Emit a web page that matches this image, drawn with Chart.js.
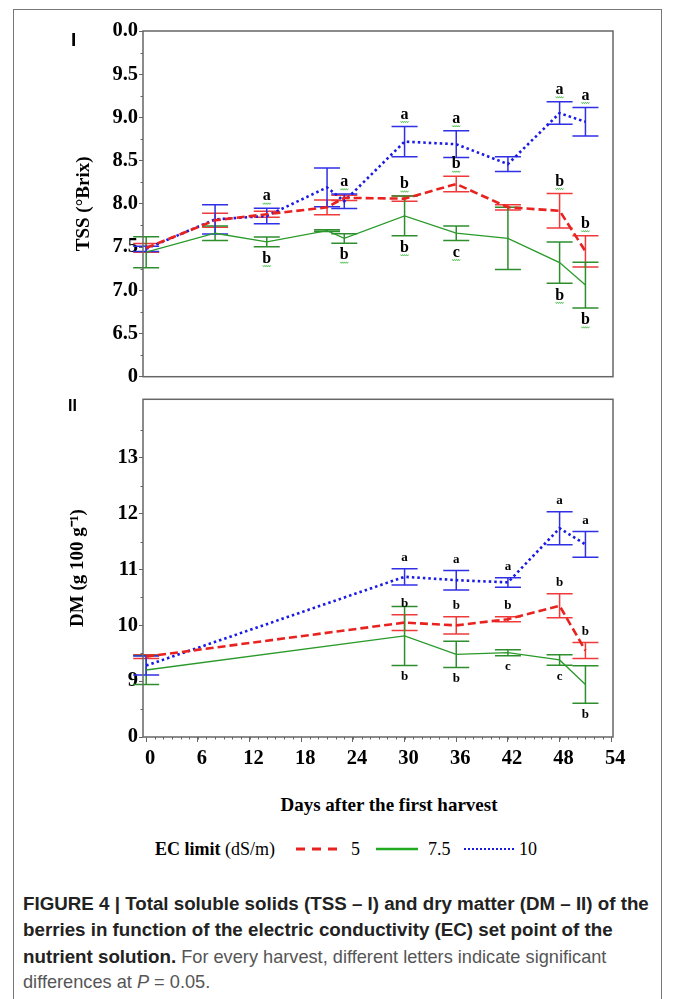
<!DOCTYPE html>
<html>
<head>
<meta charset="utf-8">
<script src="https://cdn.jsdelivr.net/npm/chart.js@4.4.1/dist/chart.umd.min.js"></script>
<style>
  html, body { margin: 0; padding: 0; background: #fff; }
  body { width: 673px; height: 999px; position: relative; overflow: hidden; }
  .frame { position: absolute; left: 13px; top: 9px; width: 649px; height: 1100px; border: 1px solid #777; box-sizing: border-box; }
  .wrap { position: absolute; left: 0; width: 673px; }
  .wrap canvas { display: block; }
  .panel { position: absolute; font: bold 19px/19px "Liberation Sans", Arial, sans-serif; color: #000; }
  .serif { position: absolute; font-family: "Liberation Serif", "Times New Roman", serif; color: #000; white-space: nowrap; }
  .caption { position: absolute; left: 23px; top: 891px; font: 18.2px/25.3px "Liberation Sans", Arial, sans-serif; color: #555; white-space: nowrap; }
  .caption b { color: #222; font-size: 18.75px; }
</style>
</head>
<body>
<div class="frame"></div>

<div class="wrap" style="top:0; height:390px;"><canvas id="tssChart" width="673" height="390"></canvas></div>
<div class="wrap" style="top:386px; height:400px;"><canvas id="dmChart" width="673" height="400"></canvas></div>

<div class="panel" style="left:71px; top:30px;">I</div>
<div class="panel" style="left:68px; top:398px; font-size:16px; line-height:16px;">II</div>

<div class="serif" style="left:389px; top:794px; transform:translateX(-50%); font-weight:bold; font-size:19px; line-height:22px;">Days after the first harvest</div>

<div class="serif" style="left:155px; top:838px; font-size:18px; line-height:22px;"><b>EC limit</b> (dS/m)</div>
<svg style="position:absolute; left:296px; top:844px;" width="42" height="10">
  <line x1="0" y1="5" x2="42" y2="5" stroke="#e8231f" stroke-width="3" stroke-dasharray="9 7"/>
</svg>
<div class="serif" style="left:351px; top:838px; font-size:18px; line-height:22px;">5</div>
<svg style="position:absolute; left:376px; top:844px;" width="42" height="10">
  <line x1="0" y1="5" x2="42" y2="5" stroke="#1faa1f" stroke-width="2.5"/>
</svg>
<div class="serif" style="left:428px; top:838px; font-size:18px; line-height:22px;">7.5</div>
<svg style="position:absolute; left:464px; top:844px;" width="50" height="10">
  <line x1="0" y1="5" x2="50" y2="5" stroke="#1a1ae6" stroke-width="2" stroke-dasharray="2 2"/>
</svg>
<div class="serif" style="left:519px; top:838px; font-size:18px; line-height:22px;">10</div>

<div class="caption"><b>FIGURE 4 | Total soluble solids (TSS – I) and dry matter (DM – II) of the<br>berries in function of the electric conductivity (EC) set point of the<br>nutrient solution.</b> For every harvest, different letters indicate significant<br>differences at <i>P</i> = 0.05.</div>

<script>
// values (means and half error bars)
const tssDays = [0, 8, 14, 21, 23, 30, 36, 42, 48, 51];
const tss5 = [7.49, 7.81, 7.88, 7.96, 8.07, 8.06, 8.23, 7.96, 7.92, 7.45];
const tss5Err = [0.05, 0.08, 0.035, 0.085, 0.03, 0.03, 0.09, 0.03, 0.2, 0.18];
const tss75 = [7.44, 7.66, 7.56, 7.69, 7.60, 7.86, 7.66, 7.60, 7.32, 7.06];
const tss75Err = [0.18, 0.085, 0.055, 0.01, 0.055, 0.23, 0.085, 0.36, 0.24, 0.265];
const tss10 = [7.48, 7.82, 7.86, 8.19, 8.03, 8.72, 8.69, 8.46, 9.05, 8.95];
const tss10Err = [0.03, 0.17, 0.09, 0.225, 0.085, 0.175, 0.155, 0.085, 0.13, 0.165];
const tss5Letters = ['', '', '', '', '', 'b', 'b', '', 'b', 'b'];
const tss75Letters = ['', '', 'b', '', 'b', 'b', 'c', '', 'b', 'b'];
const tss10Letters = ['', '', 'a', '', 'a', 'a', 'a', '', 'a', 'a'];

const dmDays = [0, 30, 36, 42, 48, 51];
const dm5 = [9.44, 10.05, 10.0, 10.11, 10.35, 9.55];
const dm5Err = [0.035, 0.14, 0.155, 0.045, 0.215, 0.145];
const dm75 = [9.2, 9.81, 9.48, 9.51, 9.38, 8.94];
const dm75Err = [0.26, 0.53, 0.235, 0.055, 0.095, 0.335];
const dm10 = [9.28, 10.87, 10.81, 10.77, 11.74, 11.45];
const dm10Err = [0.17, 0.145, 0.175, 0.085, 0.295, 0.23];
const dm5Letters = ['', 'b', 'b', 'b', 'b', 'b'];
const dm75Letters = ['', 'b', 'b', 'c', 'c', 'b'];
const dm10Letters = ['', 'a', 'a', 'a', 'a', 'a'];

const dayTicks = [0, 6, 12, 18, 24, 30, 36, 42, 48, 54];
const tssTicks = [6, 6.5, 7, 7.5, 8, 8.5, 9, 9.5, 10];
const tssTickLabels = ['0', '6.5', '7.0', '7.5', '8.0', '8.5', '9.0', '9.5', '0.0'];
const dmTicks = [8, 9, 10, 11, 12, 13];
const dmTickLabels = ['0', '9', '10', '11', '12', '13'];

const RED = '#e8231f', GREEN = '#2a9a2a', BLUE = '#1a1ae6';
const AXIS = '#666';
const serifBold = (size) => ({ family: '"Liberation Serif", "Times New Roman", serif', size: size, weight: 'bold', lineHeight: 1.2 });

function series(label, days, vals, errs, letters, side, color, barColor, width, dash) {
  return {
    label: label,
    data: days.map((d, i) => ({ x: d, y: vals[i] })),
    errors: errs,
    letters: letters,
    letterSide: side,
    barColor: barColor,
    borderColor: color,
    borderWidth: width,
    borderDash: dash,
    borderCapStyle: 'butt',
    pointRadius: 0,
    fill: false,
    tension: 0
  };
}

// error bars with caps, drawn under the lines
const errorBars = {
  id: 'errorBars',
  beforeDatasetsDraw(chart) {
    const { ctx, scales: { x, y } } = chart;
    ctx.save();
    ctx.lineWidth = 1.5;
    chart.data.datasets.forEach(ds => {
      ctx.strokeStyle = ds.barColor;
      ds.data.forEach((p, i) => {
        const e = ds.errors[i];
        const px = x.getPixelForValue(p.x);
        const top = y.getPixelForValue(p.y + e);
        const bot = y.getPixelForValue(p.y - e);
        ctx.beginPath();
        ctx.moveTo(px, top); ctx.lineTo(px, bot);
        ctx.moveTo(px - 13, top); ctx.lineTo(px + 13, top);
        ctx.moveTo(px - 13, bot); ctx.lineTo(px + 13, bot);
        ctx.stroke();
      });
    });
    ctx.restore();
  }
};

// significance letters above / below the bars
const sigLetters = {
  id: 'sigLetters',
  afterDatasetsDraw(chart, args, opts) {
    const { ctx, scales: { x, y } } = chart;
    ctx.save();
    ctx.font = `bold ${opts.size}px "Liberation Serif", "Times New Roman", serif`;
    ctx.textAlign = 'center';
    ctx.textBaseline = 'middle';
    chart.data.datasets.forEach(ds => {
      ds.data.forEach((p, i) => {
        const txt = ds.letters[i];
        if (!txt) return;
        const e = ds.errors[i];
        const px = x.getPixelForValue(p.x);
        const py = ds.letterSide === 'above'
          ? y.getPixelForValue(p.y + e) - opts.above
          : y.getPixelForValue(p.y - e) + opts.below;
        ctx.fillStyle = '#000';
        ctx.fillText(txt, px, py);
        if (opts.squiggle) {
          ctx.strokeStyle = '#3cb83c';
          ctx.lineWidth = 0.8;
          ctx.beginPath();
          const sy = py + opts.size * 0.45;
          for (let k = 0; k <= 8; k++) {
            const sx = px - 4 + k;
            const yy = sy + (k % 2 ? 1 : -0.5);
            if (k === 0) ctx.moveTo(sx, yy); else ctx.lineTo(sx, yy);
          }
          ctx.stroke();
        }
      });
    });
    ctx.restore();
  }
};

// plot box and minor tick marks
const boxAndMinor = {
  id: 'boxAndMinor',
  afterDraw(chart, args, opts) {
    const { ctx, chartArea: a, scales: { x, y } } = chart;
    ctx.save();
    ctx.strokeStyle = AXIS;
    ctx.lineWidth = 1.5;
    ctx.strokeRect(a.left, a.top, a.right - a.left, a.bottom - a.top);
    ctx.lineWidth = 1;
    ctx.beginPath();
    for (let v = opts.yFrom; v <= opts.yTo + 1e-9; v += opts.yStep) {
      const py = Math.round(y.getPixelForValue(v)) + 0.5;
      ctx.moveTo(a.left - 2.5, py); ctx.lineTo(a.left, py);
    }
    if (opts.xStep) {
      for (let d = 0; d <= 54; d += opts.xStep) {
        const px = Math.round(x.getPixelForValue(d)) + 0.5;
        ctx.moveTo(px, a.bottom); ctx.lineTo(px, a.bottom + 2.5);
      }
    }
    ctx.stroke();
    ctx.restore();
  }
};

new Chart(document.getElementById('tssChart'), {
  type: 'line',
  data: {
    datasets: [
      series('5', tssDays, tss5, tss5Err, tss5Letters, 'above', RED, '#f03a3a', 2.6, [8, 4]),
      series('7.5', tssDays, tss75, tss75Err, tss75Letters, 'below', GREEN, '#2e8e2e', 1.3, []),
      series('10', tssDays, tss10, tss10Err, tss10Letters, 'above', BLUE, '#2f2fe6', 2.6, [2.5, 3])
    ]
  },
  options: {
    responsive: false,
    animation: false,
    layout: { padding: { left: 0, top: 31, right: 60, bottom: 5 } },
    plugins: {
      legend: { display: false },
      tooltip: { enabled: false },
      sigLetters: { size: 16, above: 12, below: 12, squiggle: true },
      boxAndMinor: { yFrom: 6.25, yTo: 9.75, yStep: 0.5, xStep: 0 }
    },
    scales: {
      x: { type: 'linear', min: -0.37, max: 54.2, display: false },
      y: {
        min: 6, max: 10,
        afterFit: s => { s.width = 143; },
        afterBuildTicks: s => { s.ticks = tssTicks.map(v => ({ value: v })); },
        ticks: { callback: (v, i) => tssTickLabels[i], color: '#000', font: serifBold(20.5), padding: 1 },
        grid: { display: true, drawOnChartArea: false, drawTicks: true, tickLength: 4, color: AXIS },
        border: { display: false },
        title: { display: true, text: 'TSS (°Brix)', color: '#000', font: serifBold(19), padding: { top: 73, bottom: 0 } }
      }
    }
  },
  plugins: [errorBars, sigLetters, boxAndMinor]
});

new Chart(document.getElementById('dmChart'), {
  type: 'line',
  data: {
    datasets: [
      series('5', dmDays, dm5, dm5Err, dm5Letters, 'above', RED, '#f03a3a', 2.6, [8, 4]),
      series('7.5', dmDays, dm75, dm75Err, dm75Letters, 'below', GREEN, '#2e8e2e', 1.3, []),
      series('10', dmDays, dm10, dm10Err, dm10Letters, 'above', BLUE, '#2f2fe6', 2.6, [2.5, 3])
    ]
  },
  options: {
    responsive: false,
    animation: false,
    layout: { padding: { left: 0, top: 7, right: 60, bottom: 0 } },
    plugins: {
      legend: { display: false },
      tooltip: { enabled: false },
      sigLetters: { size: 13, above: 11, below: 11, squiggle: false },
      boxAndMinor: { yFrom: 8.5, yTo: 13.5, yStep: 1, xStep: 1 }
    },
    scales: {
      x: {
        type: 'linear', min: -0.37, max: 54.2,
        afterFit: s => { s.height = 49; },
        afterBuildTicks: s => { s.ticks = dayTicks.map(v => ({ value: v })); },
        ticks: { color: '#000', font: serifBold(20.5), padding: 4, labelOffset: 4, maxRotation: 0 },
        grid: { display: true, drawOnChartArea: false, drawTicks: true, tickLength: 5, color: AXIS },
        border: { display: false }
      },
      y: {
        min: 8, max: 14.05,
        afterFit: s => { s.width = 143; },
        afterBuildTicks: s => { s.ticks = dmTicks.map(v => ({ value: v })); },
        ticks: { callback: (v, i) => dmTickLabels[i], color: '#000', font: serifBold(20.5), padding: 1 },
        grid: { display: true, drawOnChartArea: false, drawTicks: true, tickLength: 4, color: AXIS },
        border: { display: false },
        title: { display: true, text: 'DM (g 100 g⁻¹)', color: '#000', font: serifBold(19), padding: { top: 67, bottom: 0 } }
      }
    }
  },
  plugins: [errorBars, sigLetters, boxAndMinor]
});
</script>
</body>
</html>
